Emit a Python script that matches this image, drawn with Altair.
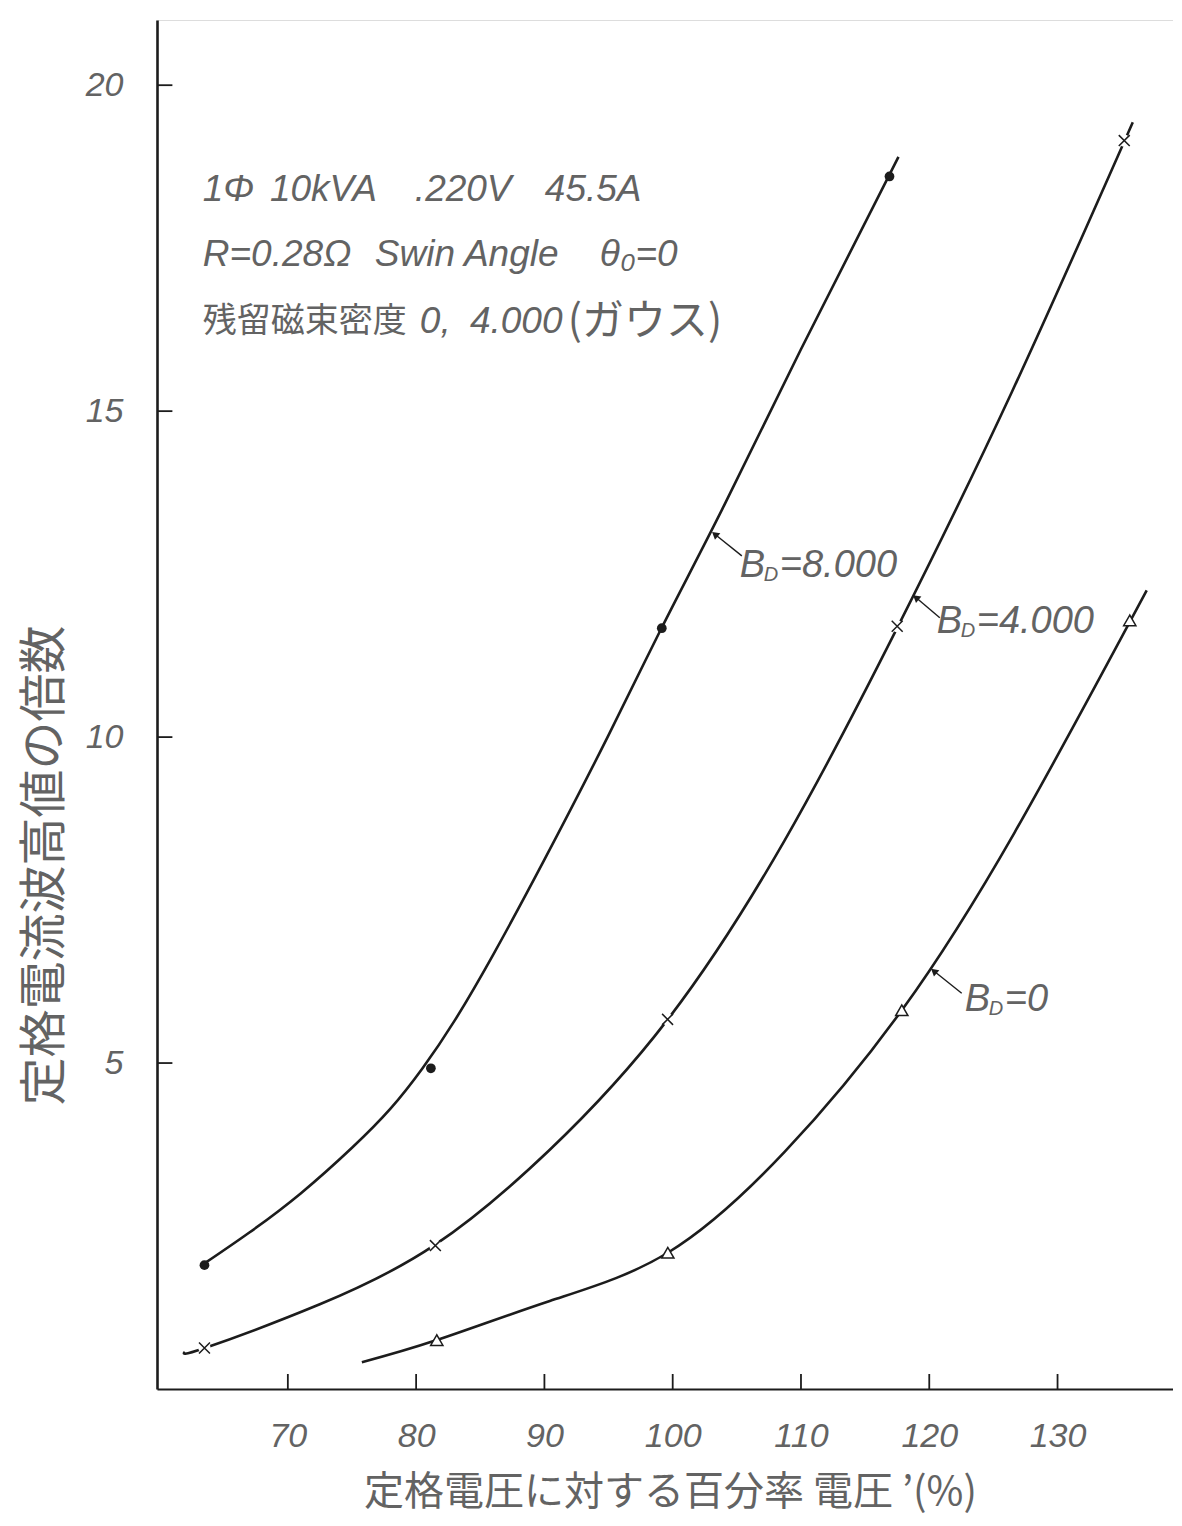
import altair as alt
import pandas as pd

# ---------------- data ----------------
X_DOMAIN = [59.8, 139.0]
Y_DOMAIN = [0, 21]

x_tick_values = [70, 80, 90, 100, 110, 120, 130]
y_tick_values = [5, 10, 15, 20]

# B_D = 8.000 curve (drawn line) and its measured points (filled dots)
b8000_curve_x = [63.53, 67.0, 71.0, 75.0, 78.0, 80.5, 83.0, 86.0, 90.0, 95.0, 99.2, 104.0, 110.0, 117.6]
b8000_curve_y = [1.93, 2.40, 3.00, 3.70, 4.30, 4.92, 5.65, 6.66, 8.12, 10.03, 11.70, 13.55, 15.95, 18.90]
b8000_pts_x = [63.5, 81.15, 99.15, 116.9]
b8000_pts_y = [1.90, 4.92, 11.67, 18.60]

# B_D = 4.000 curve and its points (x marks)
b4000_curve_x = [61.97, 63.53, 72.49, 81.46, 90.42, 99.62, 108.74, 117.54, 126.43, 135.86]
b4000_curve_y = [0.57, 0.63, 1.30, 2.21, 3.67, 5.67, 8.42, 11.69, 15.29, 19.43]
b4000_pts_x = [63.5, 81.5, 99.6, 117.5, 135.2]
b4000_pts_y = [0.63, 2.20, 5.67, 11.70, 19.15]

# B_D = 0 curve and its points (open triangles)
b0_curve_x = [75.77, 81.61, 90.42, 99.62, 108.74, 117.86, 126.66, 136.95]
b0_curve_y = [0.41, 0.75, 1.35, 2.09, 3.64, 5.81, 8.54, 12.25]
b0_pts_x = [81.61, 99.62, 117.86, 135.63]
b0_pts_y = [0.75, 2.09, 5.81, 11.79]

# curve labels
curve_label_rest = ["=8.000", "=4.000", "=0"]
curve_label_x = [105.23, 120.58, 122.77]
curve_label_y = [12.62, 11.76, 5.97]
leader_tip_x = [103.36, 119.03, 120.43]
leader_tip_y = [13.10, 12.13, 6.40]
leader_tail_x = [105.39, 120.82, 122.53]
leader_tail_y = [12.78, 11.83, 6.07]

# header note (words and where each starts)
note_words = ["1Φ", "10kVA", ".220V", "45.5A", "R=0.28Ω", "Swin Angle", "θ₀=0", "0,", "4.000"]
note_words_x = [63.37, 68.60, 79.90, 90.03, 63.37, 76.78, 94.32, 80.29, 84.19]
note_words_y = [18.39, 18.39, 18.39, 18.39, 17.39, 17.39, 17.39, 16.36, 16.36]
note_jp = ["残留磁束密度", "(ガウス)"]
note_jp_x = [63.37, 91.82]
note_jp_y = [16.36, 16.36]
note_jp_size = [34, 42]

x_title = "定格電圧に対する百分率 電圧 ’(%)"
y_title = "定格電流波高値の倍数"

# ---------------- styling ----------------
NUM_FONT = "Liberation Sans, Arial, sans-serif"
JP_FONT = "Noto Sans CJK JP"
INK = "#1c1c1c"
GREY = "#636363"

PX_PER_X = 12.83
PX_PER_Y = 65.19
W = round((X_DOMAIN[1] - X_DOMAIN[0]) * PX_PER_X)
H = round((Y_DOMAIN[1] - Y_DOMAIN[0]) * PX_PER_Y)

xs = alt.Scale(domain=X_DOMAIN, nice=False, zero=False)
ys = alt.Scale(domain=Y_DOMAIN, nice=False, zero=False)

curves = pd.DataFrame(
    [{"x": x, "y": y, "series": "8000"} for x, y in zip(b8000_curve_x, b8000_curve_y)]
    + [{"x": x, "y": y, "series": "4000"} for x, y in zip(b4000_curve_x, b4000_curve_y)]
    + [{"x": x, "y": y, "series": "0"} for x, y in zip(b0_curve_x, b0_curve_y)]
)

lines = alt.Chart(curves).mark_line(interpolate="natural", color=INK, strokeWidth=2.6).encode(
    x=alt.X("x:Q", scale=xs, axis=alt.Axis(
        values=x_tick_values, tickSize=0, grid=False, format="d",
        labelFont=NUM_FONT, labelFontSize=34, labelFontStyle="italic", labelColor=GREY,
        labelPadding=30, labelBaseline="top",
        domainColor=INK, domainWidth=2.2,
        title=x_title, titleFont=JP_FONT, titleFontSize=40, titleFontWeight="normal",
        titleColor=GREY, titleX=513, titleY=103, titleBaseline="middle", titleAlign="center")),
    y=alt.Y("y:Q", scale=ys, axis=alt.Axis(
        values=y_tick_values, tickSize=0, grid=False, format="d",
        labelFont=NUM_FONT, labelFontSize=34, labelFontStyle="italic", labelColor=GREY,
        labelPadding=34,
        domainColor=INK, domainWidth=2.6,
        title=y_title, titleFont=JP_FONT, titleFontSize=48, titleFontWeight="normal",
        titleColor=GREY, titleX=-112, titleY=845, titleAngle=270,
        titleBaseline="middle", titleAlign="center")),
    detail="series:N",
)

enc_xy = dict(x=alt.X("x:Q", scale=xs), y=alt.Y("y:Q", scale=ys))

pts8000 = alt.Chart(pd.DataFrame({"x": b8000_pts_x, "y": b8000_pts_y})).mark_point(
    shape="circle", filled=True, color=INK, size=95, opacity=1).encode(**enc_xy)

df4000 = pd.DataFrame({"x": b4000_pts_x, "y": b4000_pts_y})
gap4000 = alt.Chart(df4000).mark_point(
    shape="circle", filled=True, color="white", size=150, opacity=1).encode(**enc_xy)
pts4000 = alt.Chart(df4000).mark_point(
    shape="M-1,-1L1,1M-1,1L1,-1", filled=False, stroke=INK, strokeWidth=1.5,
    size=120, opacity=1).encode(**enc_xy)

pts0 = alt.Chart(pd.DataFrame({"x": b0_pts_x, "y": b0_pts_y})).mark_point(
    shape="triangle-up", filled=True, fill="white", stroke=INK, strokeWidth=1.5,
    size=150, opacity=1).encode(**enc_xy)

# inward ticks
xticks = alt.Chart(pd.DataFrame({"x": x_tick_values, "y": [0] * len(x_tick_values),
                                 "y2": [0.23] * len(x_tick_values)})).mark_rule(
    color=INK, strokeWidth=1.8).encode(x=alt.X("x:Q", scale=xs), y=alt.Y("y:Q", scale=ys), y2="y2:Q")
yticks = alt.Chart(pd.DataFrame({"y": y_tick_values, "x": [X_DOMAIN[0]] * len(y_tick_values),
                                 "x2": [X_DOMAIN[0] + 1.2] * len(y_tick_values)})).mark_rule(
    color=INK, strokeWidth=1.8).encode(x=alt.X("x:Q", scale=xs), x2="x2:Q", y=alt.Y("y:Q", scale=ys))

# leaders
lead_df = pd.DataFrame({"x": leader_tip_x, "y": leader_tip_y, "x2": leader_tail_x, "y2": leader_tail_y})
leaders = alt.Chart(lead_df).mark_rule(color=INK, strokeWidth=1.4).encode(
    x=alt.X("x:Q", scale=xs), y=alt.Y("y:Q", scale=ys), x2="x2:Q", y2="y2:Q")
heads = alt.Chart(lead_df).mark_point(shape="triangle", filled=True, color=INK, size=70,
                                      angle=310, opacity=1, dx=4, dy=4).encode(**enc_xy)

lab_df = pd.DataFrame({"x": curve_label_x, "y": curve_label_y, "rest": curve_label_rest,
                       "B": ["B"] * 3, "D": ["D"] * 3})
lab_B = alt.Chart(lab_df).mark_text(font=NUM_FONT, fontSize=38, fontStyle="italic", color=GREY,
                                    align="left", baseline="middle").encode(**enc_xy, text="B:N")
lab_D = alt.Chart(lab_df).mark_text(font=NUM_FONT, fontSize=20, fontStyle="italic", color=GREY,
                                    align="left", baseline="middle", dx=24, dy=9).encode(**enc_xy, text="D:N")
lab_rest = alt.Chart(lab_df).mark_text(font=NUM_FONT, fontSize=38, fontStyle="italic", color=GREY,
                                       align="left", baseline="middle", dx=40).encode(**enc_xy, text="rest:N")

notes = alt.Chart(pd.DataFrame({"x": note_words_x, "y": note_words_y, "t": note_words})).mark_text(
    font=NUM_FONT, fontSize=37, fontStyle="italic", color=GREY, align="left", baseline="middle"
).encode(**enc_xy, text="t:N")
notes_jp = alt.Chart(pd.DataFrame({"x": note_jp_x, "y": note_jp_y, "t": note_jp, "s": note_jp_size})).mark_text(
    font=JP_FONT, color=GREY, align="left", baseline="middle"
).encode(**enc_xy, text="t:N", size=alt.Size("s:Q", scale=None, legend=None))

chart = alt.layer(
    lines, xticks, yticks, gap4000, pts8000, pts4000, pts0, leaders, heads,
    lab_B, lab_D, lab_rest, notes, notes_jp,
).properties(
    width=W, height=H,
    autosize=alt.AutoSizeParams(type="none"),
    padding={"left": 149, "top": 12, "right": 0, "bottom": 126},
).configure_view(stroke=None).configure(background="white")

chart.save("out.html", embed_options={"renderer": "svg", "actions": False})
